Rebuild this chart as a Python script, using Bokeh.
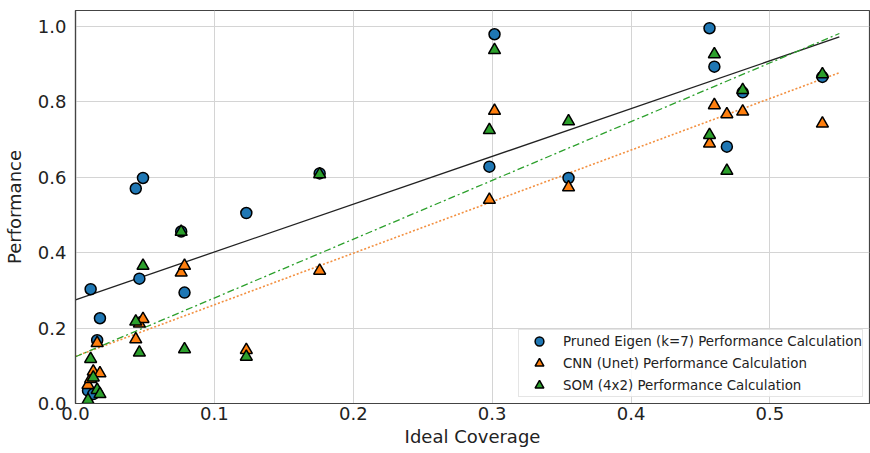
from bokeh.plotting import figure
from bokeh.models import Range1d, FixedTicker, PrintfTickFormatter, Legend, LegendItem, ColumnDataSource
from bokeh.embed import file_html
from bokeh.resources import INLINE

# ---- data ----
coverage = [0.009, 0.0109, 0.0128, 0.0156, 0.0176, 0.0434, 0.046, 0.0486, 0.0761, 0.0785,
            0.123, 0.1758, 0.298, 0.3017, 0.355, 0.4565, 0.460, 0.469, 0.4804, 0.5378]
eigen_perf = [0.034, 0.303, 0.025, 0.168, 0.226, 0.570, 0.331, 0.598, 0.456, 0.294,
              0.505, 0.610, 0.628, 0.979, 0.598, 0.995, 0.893, 0.681, 0.825, 0.866]
cnn_perf = [0.049, 0.065, 0.085, 0.160, 0.080, 0.170, 0.212, 0.224, 0.347, 0.365,
            0.142, 0.352, 0.540, 0.776, 0.573, 0.689, 0.791, 0.767, 0.774, 0.742]
som_perf = [0.009, 0.118, 0.069, 0.036, 0.025, 0.217, 0.135, 0.365, 0.455, 0.144,
            0.124, 0.608, 0.725, 0.937, 0.748, 0.712, 0.926, 0.617, 0.831, 0.873]

# fitted trend lines (end points)
fit_x = [0.0, 0.55]
eigen_fit = [0.275, 0.972]
cnn_fit = [0.125, 0.877]
som_fit = [0.124, 0.981]

labels = ["Pruned Eigen (k=7) Performance Calculation",
          "CNN (Unet) Performance Calculation",
          "SOM (4x2) Performance Calculation"]
x_ticks = [0.0, 0.1, 0.2, 0.3, 0.4, 0.5]
y_ticks = [0.0, 0.2, 0.4, 0.6, 0.8, 1.0]

BLUE, ORANGE, GREEN = "#1f77b4", "#ff7f0e", "#2ca02c"
FONT = "DejaVu Sans"

p = figure(width=870, height=453, output_backend="svg", toolbar_location=None,
           x_range=Range1d(0, 0.5717), y_range=Range1d(0, 1.042),
           min_border_left=72, min_border_right=1, min_border_top=10, min_border_bottom=50)
p.background_fill_color = "white"
p.border_fill_color = "white"
p.outline_line_color = "#444444"
p.outline_line_width = 1.2

# grid
for g in (p.xgrid, p.ygrid):
    g.grid_line_color = "#d4d4d4"
    g.grid_line_width = 1
p.xgrid.ticker = FixedTicker(ticks=x_ticks)
p.ygrid.ticker = FixedTicker(ticks=y_ticks)

# axes
p.xaxis.ticker = FixedTicker(ticks=x_ticks)
p.yaxis.ticker = FixedTicker(ticks=y_ticks)
p.xaxis.formatter = PrintfTickFormatter(format="%.1f")
p.yaxis.formatter = PrintfTickFormatter(format="%.1f")
p.xaxis.axis_label = "Ideal Coverage"
p.yaxis.axis_label = "Performance"
for ax in (p.xaxis, p.yaxis):
    ax.axis_label_text_font = FONT
    ax.axis_label_text_font_style = "normal"
    ax.axis_label_text_font_size = "18px"
    ax.axis_label_text_color = "#222222"
    ax.major_label_text_font = FONT
    ax.major_label_text_font_size = "18px"
    ax.major_label_text_color = "#222222"
    ax.major_tick_line_color = None
    ax.minor_tick_line_color = None
    ax.major_tick_out = 0
    ax.major_tick_in = 0
    ax.minor_tick_out = 0
    ax.minor_tick_in = 0
    ax.axis_line_color = "#444444"
    ax.axis_line_width = 1.2
p.xaxis.major_label_standoff = 3
p.xaxis.axis_label_standoff = 3
p.yaxis.major_label_standoff = 9
p.yaxis.axis_label_standoff = 10

# trend lines
p.line(fit_x, eigen_fit, line_color="#222222", line_width=1.3)
p.line(fit_x, cnn_fit, line_color="#f39040", line_width=1.6, line_dash="2 2")
p.line(fit_x, som_fit, line_color=GREEN, line_width=1.3, line_dash="7 3 2 3")

src = ColumnDataSource(dict(x=coverage, e=eigen_perf, c=cnn_perf, s=som_perf))
r1 = p.scatter("x", "e", source=src, marker="circle", size=11, fill_color=BLUE,
               line_color="black", line_width=1.5)
r2 = p.scatter("x", "c", source=src, marker="triangle", size=12, fill_color=ORANGE,
               line_color="black", line_width=1.5)
r3 = p.scatter("x", "s", source=src, marker="triangle", size=12, fill_color=GREEN,
               line_color="black", line_width=1.5)

legend = Legend(items=[LegendItem(label=labels[0], renderers=[r1]),
                       LegendItem(label=labels[1], renderers=[r2]),
                       LegendItem(label=labels[2], renderers=[r3])],
                location="bottom_right")
legend.label_text_font = FONT
legend.label_text_font_size = "13.4px"
legend.label_text_color = "#222222"
legend.label_height = 20
legend.glyph_height = 22
legend.glyph_width = 40
legend.label_standoff = 4
legend.spacing = 0
legend.padding = 0
legend.margin = 6
legend.border_line_color = "#cccccc"
legend.border_line_width = 1
legend.background_fill_alpha = 0.85
p.add_layout(legend)

open("out.html", "w").write(file_html(p, INLINE))
